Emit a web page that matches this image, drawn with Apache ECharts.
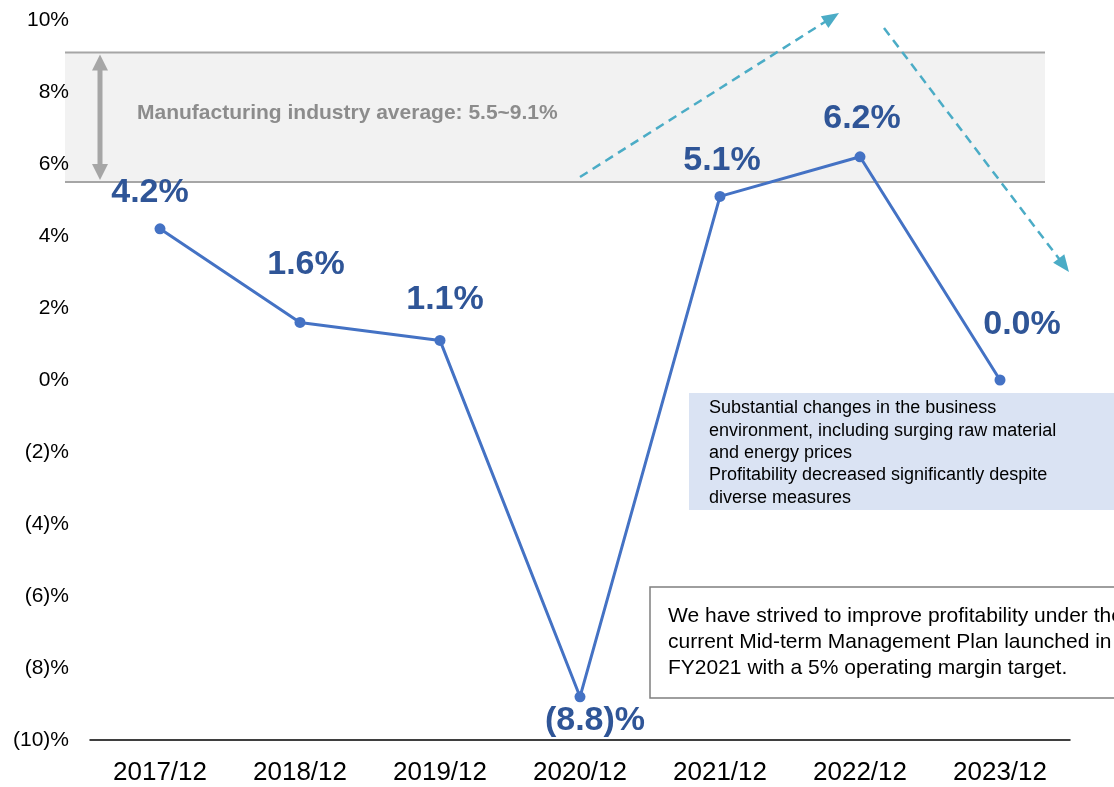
<!DOCTYPE html>
<html>
<head>
<meta charset="utf-8">
<script src="https://cdn.jsdelivr.net/npm/echarts@6/dist/echarts.min.js"></script>
<style>
  html, body { margin: 0; padding: 0; background: #fff; }
  #chart { width: 1114px; height: 787px; }
</style>
</head>
<body>
<div id="chart"></div>
<script>
// data
const years = ["2017/12", "2018/12", "2019/12", "2020/12", "2021/12", "2022/12", "2023/12"];
const margins = [4.2, 1.6, 1.1, -8.8, 5.1, 6.2, 0.0];
const industryLow = 5.5;
const industryHigh = 9.1;
const yTicks = [-10, -8, -6, -4, -2, 0, 2, 4, 6, 8, 10];

// label nudges (px) so the values sit like in the slide
const labelOffsets = [[-10, -36], [6, -58], [5, -41], [15, 24], [2, -36], [2, -38], [22, -55]];

const fmtPct = (v) => (v < 0 ? "(" + Math.abs(v) + ")%" : v + "%");
const fmtVal = (v) => (v < 0 ? "(" + Math.abs(v).toFixed(1) + ")%" : v.toFixed(1) + "%");

const chart = echarts.init(document.getElementById("chart"), null, { renderer: "canvas" });
const FONT = "'Liberation Sans', Arial, sans-serif";

const option = {
  animation: false,
  backgroundColor: "#fff",
  grid: { left: 90, right: 44, top: 20, bottom: 47 },
  xAxis: {
    type: "category",
    data: years,
    boundaryGap: true,
    axisLine: { onZero: false, lineStyle: { color: "#000", width: 1.5 } },
    axisTick: { show: false },
    axisLabel: { color: "#000", fontSize: 26, fontFamily: FONT, margin: 20 },
    splitLine: { show: false },
  },
  yAxis: {
    type: "value",
    min: yTicks[0],
    max: yTicks[yTicks.length - 1],
    interval: 2,
    axisLine: { show: false },
    axisTick: { show: false },
    splitLine: { show: false },
    axisLabel: { color: "#000", fontSize: 21, fontFamily: FONT, margin: 21, formatter: fmtPct },
  },
  series: [
    {
      type: "line",
      z: 5,
      data: margins.map((v, i) => ({
        value: v,
        label: { offset: labelOffsets[i] },
      })),
      symbol: "circle",
      symbolSize: 11,
      itemStyle: { color: "#4472C4" },
      lineStyle: { color: "#4472C4", width: 3 },
      label: {
        show: true,
        position: "inside",
        color: "#2F5597",
        fontSize: 34,
        fontWeight: "bold",
        fontFamily: FONT,
        formatter: (p) => fmtVal(p.value),
      },
    },
  ],
};
chart.setOption(option);

// annotations: industry band, arrows, comment boxes
const yHigh = chart.convertToPixel({ yAxisIndex: 0 }, industryHigh);
const yLow = chart.convertToPixel({ yAxisIndex: 0 }, industryLow);

function arrowHead(x1, y1, x2, y2, len, w, color) {
  const dx = x2 - x1, dy = y2 - y1;
  const d = Math.sqrt(dx * dx + dy * dy);
  const ux = dx / d, uy = dy / d;
  const bx = x2 - ux * len, by = y2 - uy * len;
  return {
    type: "polygon",
    shape: { points: [[x2, y2], [bx - uy * w / 2, by + ux * w / 2], [bx + uy * w / 2, by - ux * w / 2]] },
    style: { fill: color },
    z: 10,
  };
}

function dashedArrow(x1, y1, x2, y2) {
  const col = "#4BACC6";
  const dx = x2 - x1, dy = y2 - y1;
  const d = Math.sqrt(dx * dx + dy * dy);
  return [
    {
      type: "line",
      shape: { x1: x1, y1: y1, x2: x2 - (dx / d) * 10, y2: y2 - (dy / d) * 10 },
      style: { stroke: col, lineWidth: 2.5, lineDash: [9, 6] },
      z: 10,
    },
    arrowHead(x1, y1, x2, y2, 17, 14, col),
  ];
}

const grey = "#A6A6A6";
const graphics = [
  // band
  { type: "rect", shape: { x: 65, y: yHigh, width: 980, height: yLow - yHigh }, style: { fill: "#F2F2F2" }, z: 0 },
  { type: "line", shape: { x1: 65, y1: yHigh, x2: 1045, y2: yHigh }, style: { stroke: grey, lineWidth: 2 }, z: 1 },
  { type: "line", shape: { x1: 65, y1: yLow, x2: 1045, y2: yLow }, style: { stroke: grey, lineWidth: 2 }, z: 1 },
  // double arrow
  { type: "line", shape: { x1: 100, y1: yHigh + 14, x2: 100, y2: yLow - 14 }, style: { stroke: grey, lineWidth: 5 }, z: 2 },
  arrowHead(100, yLow, 100, yHigh + 2, 16, 16, grey),
  arrowHead(100, yHigh, 100, yLow - 2, 16, 16, grey),
  {
    type: "text",
    x: 137, y: 113,
    style: {
      text: "Manufacturing industry average: " + industryLow + "~" + industryHigh + "%",
      fill: "#8C8C8C", font: "bold 21px " + FONT, textVerticalAlign: "middle",
    },
    z: 3,
  },
  ...dashedArrow(580, 177, 839, 13),
  ...dashedArrow(884, 28, 1069, 272),
  // blue comment box
  { type: "rect", shape: { x: 689, y: 393, width: 430, height: 117 }, style: { fill: "#DAE3F3" }, z: 3 },
  {
    type: "text",
    x: 709, y: 397,
    style: {
      text: "Substantial changes in the business\nenvironment, including surging raw material\nand energy prices\nProfitability decreased significantly despite\ndiverse measures",
      fill: "#000", font: "18px " + FONT, lineHeight: 22.4,
    },
    z: 4,
  },
  // white comment box
  { type: "rect", shape: { x: 650, y: 587, width: 480, height: 111 }, style: { fill: "#fff", stroke: "#7F7F7F", lineWidth: 1.5 }, z: 3 },
  {
    type: "text",
    x: 668, y: 603,
    style: {
      text: "We have strived to improve profitability under the\ncurrent Mid-term Management Plan launched in\nFY2021 with a 5% operating margin target.",
      fill: "#000", font: "21px " + FONT, lineHeight: 26,
    },
    z: 4,
  },
];
chart.setOption({ graphic: graphics });
</script>
</body>
</html>
